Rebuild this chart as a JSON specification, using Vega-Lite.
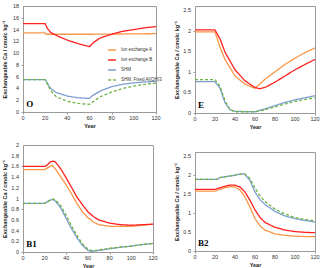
{
  "$schema": "https://vega.github.io/schema/vega-lite/v6.json",
  "padding": {"left": 2, "top": 3, "right": 4, "bottom": 2},
  "background": "white",
  "config": {
    "view": {"stroke": "#9a9a9a", "strokeWidth": 1},
    "axis": {"grid": false, "labels": false, "titleFontSize": 5.5, "titleFontWeight": "bold", "titleColor": "#222", "domainColor": "#9a9a9a", "tickColor": "#9a9a9a", "tickSize": 2, "titleFont": "Arial"},
    "axisX": {"titlePadding": 9},
    "axisY": {"titlePadding": 13},
    "legend": {"labelFontSize": 4.5, "labelFont": "Arial", "symbolType": "stroke", "symbolSize": 60, "rowPadding": 2, "labelColor": "#333"},
    "line": {"clip": true}
  },
  "datasets": {
    "d": [
      {"p":"O","s":"Ion exchange A","x":0,"y":13.45},{"p":"O","s":"Ion exchange A","x":20,"y":13.45},{"p":"O","s":"Ion exchange A","x":21,"y":13.2},{"p":"O","s":"Ion exchange A","x":60,"y":13.2},{"p":"O","s":"Ion exchange A","x":120,"y":13.3},
      {"p":"O","s":"Ion exchange B","x":0,"y":15.0},{"p":"O","s":"Ion exchange B","x":20,"y":15.0},{"p":"O","s":"Ion exchange B","x":22,"y":14.2},{"p":"O","s":"Ion exchange B","x":25,"y":13.5},{"p":"O","s":"Ion exchange B","x":30,"y":13.0},{"p":"O","s":"Ion exchange B","x":40,"y":12.2},{"p":"O","s":"Ion exchange B","x":50,"y":11.6},{"p":"O","s":"Ion exchange B","x":60,"y":11.1},{"p":"O","s":"Ion exchange B","x":62,"y":11.5},{"p":"O","s":"Ion exchange B","x":65,"y":12.0},{"p":"O","s":"Ion exchange B","x":70,"y":12.6},{"p":"O","s":"Ion exchange B","x":80,"y":13.2},{"p":"O","s":"Ion exchange B","x":90,"y":13.7},{"p":"O","s":"Ion exchange B","x":100,"y":14.0},{"p":"O","s":"Ion exchange B","x":110,"y":14.3},{"p":"O","s":"Ion exchange B","x":120,"y":14.5},
      {"p":"O","s":"SHM","x":0,"y":5.5},{"p":"O","s":"SHM","x":20,"y":5.5},{"p":"O","s":"SHM","x":25,"y":4.0},{"p":"O","s":"SHM","x":30,"y":3.3},{"p":"O","s":"SHM","x":40,"y":2.7},{"p":"O","s":"SHM","x":50,"y":2.4},{"p":"O","s":"SHM","x":60,"y":2.3},{"p":"O","s":"SHM","x":62,"y":2.7},{"p":"O","s":"SHM","x":70,"y":3.6},{"p":"O","s":"SHM","x":80,"y":4.3},{"p":"O","s":"SHM","x":90,"y":4.7},{"p":"O","s":"SHM","x":100,"y":4.95},{"p":"O","s":"SHM","x":110,"y":5.1},{"p":"O","s":"SHM","x":120,"y":5.2},
      {"p":"O","s":"SHM, Fixed Al(OH)3","x":0,"y":5.5},{"p":"O","s":"SHM, Fixed Al(OH)3","x":20,"y":5.5},{"p":"O","s":"SHM, Fixed Al(OH)3","x":25,"y":3.6},{"p":"O","s":"SHM, Fixed Al(OH)3","x":30,"y":2.6},{"p":"O","s":"SHM, Fixed Al(OH)3","x":40,"y":1.8},{"p":"O","s":"SHM, Fixed Al(OH)3","x":50,"y":1.45},{"p":"O","s":"SHM, Fixed Al(OH)3","x":60,"y":1.3},{"p":"O","s":"SHM, Fixed Al(OH)3","x":62,"y":1.6},{"p":"O","s":"SHM, Fixed Al(OH)3","x":70,"y":2.6},{"p":"O","s":"SHM, Fixed Al(OH)3","x":80,"y":3.4},{"p":"O","s":"SHM, Fixed Al(OH)3","x":90,"y":4.0},{"p":"O","s":"SHM, Fixed Al(OH)3","x":100,"y":4.4},{"p":"O","s":"SHM, Fixed Al(OH)3","x":110,"y":4.7},{"p":"O","s":"SHM, Fixed Al(OH)3","x":120,"y":4.9},

      {"p":"E","s":"Ion exchange A","x":0,"y":1.97},{"p":"E","s":"Ion exchange A","x":20,"y":1.97},{"p":"E","s":"Ion exchange A","x":25,"y":1.6},{"p":"E","s":"Ion exchange A","x":30,"y":1.3},{"p":"E","s":"Ion exchange A","x":40,"y":0.9},{"p":"E","s":"Ion exchange A","x":50,"y":0.7},{"p":"E","s":"Ion exchange A","x":60,"y":0.6},{"p":"E","s":"Ion exchange A","x":70,"y":0.82},{"p":"E","s":"Ion exchange A","x":80,"y":1.0},{"p":"E","s":"Ion exchange A","x":90,"y":1.18},{"p":"E","s":"Ion exchange A","x":100,"y":1.33},{"p":"E","s":"Ion exchange A","x":110,"y":1.47},{"p":"E","s":"Ion exchange A","x":120,"y":1.58},
      {"p":"E","s":"Ion exchange B","x":0,"y":2.02},{"p":"E","s":"Ion exchange B","x":20,"y":2.02},{"p":"E","s":"Ion exchange B","x":25,"y":1.8},{"p":"E","s":"Ion exchange B","x":30,"y":1.48},{"p":"E","s":"Ion exchange B","x":40,"y":1.05},{"p":"E","s":"Ion exchange B","x":50,"y":0.78},{"p":"E","s":"Ion exchange B","x":60,"y":0.62},{"p":"E","s":"Ion exchange B","x":65,"y":0.59},{"p":"E","s":"Ion exchange B","x":70,"y":0.62},{"p":"E","s":"Ion exchange B","x":80,"y":0.75},{"p":"E","s":"Ion exchange B","x":90,"y":0.9},{"p":"E","s":"Ion exchange B","x":100,"y":1.05},{"p":"E","s":"Ion exchange B","x":110,"y":1.18},{"p":"E","s":"Ion exchange B","x":120,"y":1.3},
      {"p":"E","s":"SHM","x":0,"y":0.76},{"p":"E","s":"SHM","x":20,"y":0.76},{"p":"E","s":"SHM","x":25,"y":0.6},{"p":"E","s":"SHM","x":30,"y":0.25},{"p":"E","s":"SHM","x":35,"y":0.08},{"p":"E","s":"SHM","x":40,"y":0.04},{"p":"E","s":"SHM","x":60,"y":0.03},{"p":"E","s":"SHM","x":70,"y":0.1},{"p":"E","s":"SHM","x":80,"y":0.18},{"p":"E","s":"SHM","x":90,"y":0.26},{"p":"E","s":"SHM","x":100,"y":0.32},{"p":"E","s":"SHM","x":110,"y":0.37},{"p":"E","s":"SHM","x":120,"y":0.42},
      {"p":"E","s":"SHM, Fixed Al(OH)3","x":0,"y":0.81},{"p":"E","s":"SHM, Fixed Al(OH)3","x":20,"y":0.81},{"p":"E","s":"SHM, Fixed Al(OH)3","x":25,"y":0.65},{"p":"E","s":"SHM, Fixed Al(OH)3","x":30,"y":0.3},{"p":"E","s":"SHM, Fixed Al(OH)3","x":35,"y":0.08},{"p":"E","s":"SHM, Fixed Al(OH)3","x":40,"y":0.03},{"p":"E","s":"SHM, Fixed Al(OH)3","x":60,"y":0.03},{"p":"E","s":"SHM, Fixed Al(OH)3","x":70,"y":0.08},{"p":"E","s":"SHM, Fixed Al(OH)3","x":80,"y":0.15},{"p":"E","s":"SHM, Fixed Al(OH)3","x":90,"y":0.22},{"p":"E","s":"SHM, Fixed Al(OH)3","x":100,"y":0.28},{"p":"E","s":"SHM, Fixed Al(OH)3","x":110,"y":0.33},{"p":"E","s":"SHM, Fixed Al(OH)3","x":120,"y":0.37},

      {"p":"B1","s":"Ion exchange A","x":0,"y":1.54},{"p":"B1","s":"Ion exchange A","x":20,"y":1.54},{"p":"B1","s":"Ion exchange A","x":25,"y":1.6},{"p":"B1","s":"Ion exchange A","x":27,"y":1.62},{"p":"B1","s":"Ion exchange A","x":30,"y":1.55},{"p":"B1","s":"Ion exchange A","x":35,"y":1.4},{"p":"B1","s":"Ion exchange A","x":40,"y":1.25},{"p":"B1","s":"Ion exchange A","x":45,"y":1.08},{"p":"B1","s":"Ion exchange A","x":50,"y":0.9},{"p":"B1","s":"Ion exchange A","x":55,"y":0.75},{"p":"B1","s":"Ion exchange A","x":60,"y":0.64},{"p":"B1","s":"Ion exchange A","x":65,"y":0.56},{"p":"B1","s":"Ion exchange A","x":70,"y":0.51},{"p":"B1","s":"Ion exchange A","x":80,"y":0.48},{"p":"B1","s":"Ion exchange A","x":90,"y":0.48},{"p":"B1","s":"Ion exchange A","x":100,"y":0.48},{"p":"B1","s":"Ion exchange A","x":110,"y":0.5},{"p":"B1","s":"Ion exchange A","x":120,"y":0.52},
      {"p":"B1","s":"Ion exchange B","x":0,"y":1.6},{"p":"B1","s":"Ion exchange B","x":20,"y":1.6},{"p":"B1","s":"Ion exchange B","x":22,"y":1.62},{"p":"B1","s":"Ion exchange B","x":25,"y":1.68},{"p":"B1","s":"Ion exchange B","x":28,"y":1.7},{"p":"B1","s":"Ion exchange B","x":30,"y":1.68},{"p":"B1","s":"Ion exchange B","x":35,"y":1.55},{"p":"B1","s":"Ion exchange B","x":40,"y":1.38},{"p":"B1","s":"Ion exchange B","x":45,"y":1.2},{"p":"B1","s":"Ion exchange B","x":50,"y":1.02},{"p":"B1","s":"Ion exchange B","x":55,"y":0.88},{"p":"B1","s":"Ion exchange B","x":60,"y":0.75},{"p":"B1","s":"Ion exchange B","x":65,"y":0.66},{"p":"B1","s":"Ion exchange B","x":70,"y":0.6},{"p":"B1","s":"Ion exchange B","x":80,"y":0.54},{"p":"B1","s":"Ion exchange B","x":90,"y":0.51},{"p":"B1","s":"Ion exchange B","x":100,"y":0.5},{"p":"B1","s":"Ion exchange B","x":110,"y":0.51},{"p":"B1","s":"Ion exchange B","x":120,"y":0.52},
      {"p":"B1","s":"SHM","x":0,"y":0.91},{"p":"B1","s":"SHM","x":20,"y":0.91},{"p":"B1","s":"SHM","x":25,"y":0.97},{"p":"B1","s":"SHM","x":28,"y":0.98},{"p":"B1","s":"SHM","x":30,"y":0.95},{"p":"B1","s":"SHM","x":35,"y":0.82},{"p":"B1","s":"SHM","x":40,"y":0.62},{"p":"B1","s":"SHM","x":45,"y":0.43},{"p":"B1","s":"SHM","x":50,"y":0.26},{"p":"B1","s":"SHM","x":55,"y":0.12},{"p":"B1","s":"SHM","x":60,"y":0.03},{"p":"B1","s":"SHM","x":63,"y":0.01},{"p":"B1","s":"SHM","x":70,"y":0.03},{"p":"B1","s":"SHM","x":80,"y":0.06},{"p":"B1","s":"SHM","x":90,"y":0.09},{"p":"B1","s":"SHM","x":100,"y":0.11},{"p":"B1","s":"SHM","x":110,"y":0.14},{"p":"B1","s":"SHM","x":120,"y":0.16},
      {"p":"B1","s":"SHM, Fixed Al(OH)3","x":0,"y":0.91},{"p":"B1","s":"SHM, Fixed Al(OH)3","x":20,"y":0.91},{"p":"B1","s":"SHM, Fixed Al(OH)3","x":25,"y":0.97},{"p":"B1","s":"SHM, Fixed Al(OH)3","x":28,"y":0.99},{"p":"B1","s":"SHM, Fixed Al(OH)3","x":30,"y":0.97},{"p":"B1","s":"SHM, Fixed Al(OH)3","x":35,"y":0.86},{"p":"B1","s":"SHM, Fixed Al(OH)3","x":40,"y":0.68},{"p":"B1","s":"SHM, Fixed Al(OH)3","x":45,"y":0.48},{"p":"B1","s":"SHM, Fixed Al(OH)3","x":50,"y":0.3},{"p":"B1","s":"SHM, Fixed Al(OH)3","x":55,"y":0.15},{"p":"B1","s":"SHM, Fixed Al(OH)3","x":60,"y":0.05},{"p":"B1","s":"SHM, Fixed Al(OH)3","x":65,"y":0.02},{"p":"B1","s":"SHM, Fixed Al(OH)3","x":70,"y":0.04},{"p":"B1","s":"SHM, Fixed Al(OH)3","x":80,"y":0.07},{"p":"B1","s":"SHM, Fixed Al(OH)3","x":90,"y":0.09},{"p":"B1","s":"SHM, Fixed Al(OH)3","x":100,"y":0.11},{"p":"B1","s":"SHM, Fixed Al(OH)3","x":110,"y":0.14},{"p":"B1","s":"SHM, Fixed Al(OH)3","x":120,"y":0.16},

      {"p":"B2","s":"Ion exchange A","x":0,"y":1.57},{"p":"B2","s":"Ion exchange A","x":20,"y":1.57},{"p":"B2","s":"Ion exchange A","x":25,"y":1.62},{"p":"B2","s":"Ion exchange A","x":30,"y":1.66},{"p":"B2","s":"Ion exchange A","x":35,"y":1.69},{"p":"B2","s":"Ion exchange A","x":40,"y":1.68},{"p":"B2","s":"Ion exchange A","x":45,"y":1.6},{"p":"B2","s":"Ion exchange A","x":50,"y":1.42},{"p":"B2","s":"Ion exchange A","x":55,"y":1.15},{"p":"B2","s":"Ion exchange A","x":60,"y":0.85},{"p":"B2","s":"Ion exchange A","x":65,"y":0.66},{"p":"B2","s":"Ion exchange A","x":70,"y":0.55},{"p":"B2","s":"Ion exchange A","x":80,"y":0.45},{"p":"B2","s":"Ion exchange A","x":90,"y":0.41},{"p":"B2","s":"Ion exchange A","x":100,"y":0.39},{"p":"B2","s":"Ion exchange A","x":110,"y":0.38},{"p":"B2","s":"Ion exchange A","x":120,"y":0.38},
      {"p":"B2","s":"Ion exchange B","x":0,"y":1.62},{"p":"B2","s":"Ion exchange B","x":20,"y":1.62},{"p":"B2","s":"Ion exchange B","x":25,"y":1.66},{"p":"B2","s":"Ion exchange B","x":30,"y":1.7},{"p":"B2","s":"Ion exchange B","x":35,"y":1.73},{"p":"B2","s":"Ion exchange B","x":40,"y":1.73},{"p":"B2","s":"Ion exchange B","x":45,"y":1.68},{"p":"B2","s":"Ion exchange B","x":50,"y":1.55},{"p":"B2","s":"Ion exchange B","x":55,"y":1.33},{"p":"B2","s":"Ion exchange B","x":60,"y":1.08},{"p":"B2","s":"Ion exchange B","x":65,"y":0.88},{"p":"B2","s":"Ion exchange B","x":70,"y":0.75},{"p":"B2","s":"Ion exchange B","x":80,"y":0.62},{"p":"B2","s":"Ion exchange B","x":90,"y":0.55},{"p":"B2","s":"Ion exchange B","x":100,"y":0.51},{"p":"B2","s":"Ion exchange B","x":110,"y":0.49},{"p":"B2","s":"Ion exchange B","x":120,"y":0.48},
      {"p":"B2","s":"SHM","x":0,"y":1.88},{"p":"B2","s":"SHM","x":22,"y":1.88},{"p":"B2","s":"SHM","x":25,"y":1.93},{"p":"B2","s":"SHM","x":30,"y":1.95},{"p":"B2","s":"SHM","x":40,"y":1.99},{"p":"B2","s":"SHM","x":45,"y":2.02},{"p":"B2","s":"SHM","x":48,"y":2.03},{"p":"B2","s":"SHM","x":50,"y":2.01},{"p":"B2","s":"SHM","x":55,"y":1.85},{"p":"B2","s":"SHM","x":60,"y":1.55},{"p":"B2","s":"SHM","x":65,"y":1.35},{"p":"B2","s":"SHM","x":70,"y":1.22},{"p":"B2","s":"SHM","x":80,"y":1.04},{"p":"B2","s":"SHM","x":90,"y":0.92},{"p":"B2","s":"SHM","x":100,"y":0.85},{"p":"B2","s":"SHM","x":110,"y":0.8},{"p":"B2","s":"SHM","x":120,"y":0.76},
      {"p":"B2","s":"SHM, Fixed Al(OH)3","x":0,"y":1.88},{"p":"B2","s":"SHM, Fixed Al(OH)3","x":22,"y":1.88},{"p":"B2","s":"SHM, Fixed Al(OH)3","x":25,"y":1.93},{"p":"B2","s":"SHM, Fixed Al(OH)3","x":30,"y":1.95},{"p":"B2","s":"SHM, Fixed Al(OH)3","x":40,"y":1.99},{"p":"B2","s":"SHM, Fixed Al(OH)3","x":45,"y":2.02},{"p":"B2","s":"SHM, Fixed Al(OH)3","x":48,"y":2.03},{"p":"B2","s":"SHM, Fixed Al(OH)3","x":50,"y":2.02},{"p":"B2","s":"SHM, Fixed Al(OH)3","x":55,"y":1.9},{"p":"B2","s":"SHM, Fixed Al(OH)3","x":60,"y":1.65},{"p":"B2","s":"SHM, Fixed Al(OH)3","x":65,"y":1.45},{"p":"B2","s":"SHM, Fixed Al(OH)3","x":70,"y":1.3},{"p":"B2","s":"SHM, Fixed Al(OH)3","x":80,"y":1.1},{"p":"B2","s":"SHM, Fixed Al(OH)3","x":90,"y":0.97},{"p":"B2","s":"SHM, Fixed Al(OH)3","x":100,"y":0.88},{"p":"B2","s":"SHM, Fixed Al(OH)3","x":110,"y":0.83},{"p":"B2","s":"SHM, Fixed Al(OH)3","x":120,"y":0.79}
    ],
    "labels": [
      {"p":"O","t":"O","x":3,"y":0.5},
      {"p":"E","t":"E","x":3,"y":0.07},
      {"p":"B1","t":"B1","x":3,"y":0.06},
      {"p":"B2","t":"B2","x":3,"y":0.08}
    ],
    "xt": [
      {"v":0,"t":"0"},{"v":20,"t":"20"},{"v":40,"t":"40"},{"v":60,"t":"60"},{"v":80,"t":"80"},{"v":100,"t":"100"},{"v":120,"t":"120"}
    ],
    "yt": [
      {"p":"O","v":0,"t":"0"},{"p":"O","v":2,"t":"2"},{"p":"O","v":4,"t":"4"},{"p":"O","v":6,"t":"6"},{"p":"O","v":8,"t":"8"},{"p":"O","v":10,"t":"10"},{"p":"O","v":12,"t":"12"},{"p":"O","v":14,"t":"14"},{"p":"O","v":16,"t":"16"},{"p":"O","v":18,"t":"18"},
      {"p":"E","v":0,"t":"0"},{"p":"E","v":0.5,"t":"0.5"},{"p":"E","v":1,"t":"1"},{"p":"E","v":1.5,"t":"1.5"},{"p":"E","v":2,"t":"2"},{"p":"E","v":2.5,"t":"2.5"},
      {"p":"B1","v":0,"t":"0"},{"p":"B1","v":0.2,"t":"0.2"},{"p":"B1","v":0.4,"t":"0.4"},{"p":"B1","v":0.6,"t":"0.6"},{"p":"B1","v":0.8,"t":"0.8"},{"p":"B1","v":1,"t":"1"},{"p":"B1","v":1.2,"t":"1.2"},{"p":"B1","v":1.4,"t":"1.4"},{"p":"B1","v":1.6,"t":"1.6"},{"p":"B1","v":1.8,"t":"1.8"},{"p":"B1","v":2,"t":"2"},
      {"p":"B2","v":0,"t":"0"},{"p":"B2","v":0.5,"t":"0.5"},{"p":"B2","v":1,"t":"1"},{"p":"B2","v":1.5,"t":"1.5"},{"p":"B2","v":2,"t":"2"},{"p":"B2","v":2.5,"t":"2.5"}
    ]
  },
  "hconcat": [
    {
      "vconcat": [
        {
          "width": 133, "height": 106,
          "layer": [
            {
              "data": {"name": "d"},
              "transform": [{"filter": "datum.p === 'O'"}],
              "mark": {"type": "line", "strokeWidth": 1.3},
              "encoding": {
                "x": {"field": "x", "type": "quantitative", "scale": {"domain": [0, 120]}, "axis": {"values": [0,20,40,60,80,100,120], "title": "Year"}},
                "y": {"field": "y", "type": "quantitative", "scale": {"domain": [0, 18]}, "axis": {"values": [0,2,4,6,8,10,12,14,16,18], "title": "Exchangeable Ca / cmolc kg⁻¹"}},
                "color": {"field": "s", "type": "nominal", "scale": {"domain": ["Ion exchange A","Ion exchange B","SHM","SHM, Fixed Al(OH)3"], "range": ["#F79646","#FF2020","#7F9FD3","#6DB344"]}, "legend": {"title": null, "orient": "none", "legendX": 84, "legendY": 39}},
                "strokeDash": {"field": "s", "type": "nominal", "scale": {"domain": ["Ion exchange A","Ion exchange B","SHM","SHM, Fixed Al(OH)3"], "range": [[1,0],[1,0],[1,0],[3,2]]}, "legend": {"title": null, "orient": "none", "legendX": 84, "legendY": 39}}
              }
            },
            {
              "data": {"name": "labels"},
              "transform": [{"filter": "datum.p === 'O'"}],
              "mark": {"type": "text", "font": "Liberation Serif", "fontWeight": "bold", "fontSize": 9, "align": "left", "baseline": "bottom"},
              "encoding": {"x": {"field": "x", "type": "quantitative"}, "y": {"field": "y", "type": "quantitative"}, "text": {"field": "t"}}
            },
            {
              "data": {"name": "xt"},
              "mark": {"type": "text", "font": "Arial", "fontSize": 5.5, "color": "#333", "baseline": "top", "dy": 4},
              "encoding": {"x": {"field": "v", "type": "quantitative"}, "y": {"datum": 0}, "text": {"field": "t"}}
            },
            {
              "data": {"name": "yt"},
              "transform": [{"filter": "datum.p === 'O'"}],
              "mark": {"type": "text", "font": "Arial", "fontSize": 5.5, "color": "#333", "align": "right", "baseline": "middle", "dx": -4},
              "encoding": {"x": {"datum": 0}, "y": {"field": "v", "type": "quantitative"}, "text": {"field": "t"}}
            }
          ]
        },
        {
          "width": 130, "height": 107,
          "layer": [
            {
              "data": {"name": "d"},
              "transform": [{"filter": "datum.p === 'B1'"}],
              "mark": {"type": "line", "strokeWidth": 1.3},
              "encoding": {
                "x": {"field": "x", "type": "quantitative", "scale": {"domain": [0, 120]}, "axis": {"values": [0,20,40,60,80,100,120], "title": "Year"}},
                "y": {"field": "y", "type": "quantitative", "scale": {"domain": [0, 2]}, "axis": {"values": [0,0.2,0.4,0.6,0.8,1,1.2,1.4,1.6,1.8,2], "title": "Exchangeable Ca / cmolc kg⁻¹"}},
                "color": {"field": "s", "type": "nominal", "scale": {"domain": ["Ion exchange A","Ion exchange B","SHM","SHM, Fixed Al(OH)3"], "range": ["#F79646","#FF2020","#7F9FD3","#6DB344"]}, "legend": null},
                "strokeDash": {"field": "s", "type": "nominal", "scale": {"domain": ["Ion exchange A","Ion exchange B","SHM","SHM, Fixed Al(OH)3"], "range": [[1,0],[1,0],[1,0],[3,2]]}, "legend": null}
              }
            },
            {
              "data": {"name": "labels"},
              "transform": [{"filter": "datum.p === 'B1'"}],
              "mark": {"type": "text", "font": "Liberation Serif", "fontWeight": "bold", "fontSize": 9, "align": "left", "baseline": "bottom"},
              "encoding": {"x": {"field": "x", "type": "quantitative"}, "y": {"field": "y", "type": "quantitative"}, "text": {"field": "t"}}
            },
            {
              "data": {"name": "xt"},
              "mark": {"type": "text", "font": "Arial", "fontSize": 5.5, "color": "#333", "baseline": "top", "dy": 4},
              "encoding": {"x": {"field": "v", "type": "quantitative"}, "y": {"datum": 0}, "text": {"field": "t"}}
            },
            {
              "data": {"name": "yt"},
              "transform": [{"filter": "datum.p === 'B1'"}],
              "mark": {"type": "text", "font": "Arial", "fontSize": 5.5, "color": "#333", "align": "right", "baseline": "middle", "dx": -4},
              "encoding": {"x": {"datum": 0}, "y": {"field": "v", "type": "quantitative"}, "text": {"field": "t"}}
            }
          ]
        }
      ],
      "spacing": 12
    },
    {
      "vconcat": [
        {
          "width": 120, "height": 107,
          "layer": [
            {
              "data": {"name": "d"},
              "transform": [{"filter": "datum.p === 'E'"}],
              "mark": {"type": "line", "strokeWidth": 1.3},
              "encoding": {
                "x": {"field": "x", "type": "quantitative", "scale": {"domain": [0, 120]}, "axis": {"values": [0,20,40,60,80,100,120], "title": "Year"}},
                "y": {"field": "y", "type": "quantitative", "scale": {"domain": [0, 2.5]}, "axis": {"values": [0,0.5,1,1.5,2,2.5], "title": "Exchangeable Ca / cmolc kg⁻¹"}},
                "color": {"field": "s", "type": "nominal", "scale": {"domain": ["Ion exchange A","Ion exchange B","SHM","SHM, Fixed Al(OH)3"], "range": ["#F79646","#FF2020","#7F9FD3","#6DB344"]}, "legend": null},
                "strokeDash": {"field": "s", "type": "nominal", "scale": {"domain": ["Ion exchange A","Ion exchange B","SHM","SHM, Fixed Al(OH)3"], "range": [[1,0],[1,0],[1,0],[3,2]]}, "legend": null}
              }
            },
            {
              "data": {"name": "labels"},
              "transform": [{"filter": "datum.p === 'E'"}],
              "mark": {"type": "text", "font": "Liberation Serif", "fontWeight": "bold", "fontSize": 9, "align": "left", "baseline": "bottom"},
              "encoding": {"x": {"field": "x", "type": "quantitative"}, "y": {"field": "y", "type": "quantitative"}, "text": {"field": "t"}}
            },
            {
              "data": {"name": "xt"},
              "mark": {"type": "text", "font": "Arial", "fontSize": 5.5, "color": "#333", "baseline": "top", "dy": 4},
              "encoding": {"x": {"field": "v", "type": "quantitative"}, "y": {"datum": 0}, "text": {"field": "t"}}
            },
            {
              "data": {"name": "yt"},
              "transform": [{"filter": "datum.p === 'E'"}],
              "mark": {"type": "text", "font": "Arial", "fontSize": 5.5, "color": "#333", "align": "right", "baseline": "middle", "dx": -4},
              "encoding": {"x": {"datum": 0}, "y": {"field": "v", "type": "quantitative"}, "text": {"field": "t"}}
            }
          ]
        },
        {
          "width": 120, "height": 99,
          "layer": [
            {
              "data": {"name": "d"},
              "transform": [{"filter": "datum.p === 'B2'"}],
              "mark": {"type": "line", "strokeWidth": 1.3},
              "encoding": {
                "x": {"field": "x", "type": "quantitative", "scale": {"domain": [0, 120]}, "axis": {"values": [0,20,40,60,80,100,120], "title": "Year"}},
                "y": {"field": "y", "type": "quantitative", "scale": {"domain": [0, 2.5]}, "axis": {"values": [0,0.5,1,1.5,2,2.5], "title": "Exchangeable Ca / cmolc kg⁻¹"}},
                "color": {"field": "s", "type": "nominal", "scale": {"domain": ["Ion exchange A","Ion exchange B","SHM","SHM, Fixed Al(OH)3"], "range": ["#F79646","#FF2020","#7F9FD3","#6DB344"]}, "legend": null},
                "strokeDash": {"field": "s", "type": "nominal", "scale": {"domain": ["Ion exchange A","Ion exchange B","SHM","SHM, Fixed Al(OH)3"], "range": [[1,0],[1,0],[1,0],[3,2]]}, "legend": null}
              }
            },
            {
              "data": {"name": "labels"},
              "transform": [{"filter": "datum.p === 'B2'"}],
              "mark": {"type": "text", "font": "Liberation Serif", "fontWeight": "bold", "fontSize": 9, "align": "left", "baseline": "bottom"},
              "encoding": {"x": {"field": "x", "type": "quantitative"}, "y": {"field": "y", "type": "quantitative"}, "text": {"field": "t"}}
            },
            {
              "data": {"name": "xt"},
              "mark": {"type": "text", "font": "Arial", "fontSize": 5.5, "color": "#333", "baseline": "top", "dy": 4},
              "encoding": {"x": {"field": "v", "type": "quantitative"}, "y": {"datum": 0}, "text": {"field": "t"}}
            },
            {
              "data": {"name": "yt"},
              "transform": [{"filter": "datum.p === 'B2'"}],
              "mark": {"type": "text", "font": "Arial", "fontSize": 5.5, "color": "#333", "align": "right", "baseline": "middle", "dx": -4},
              "encoding": {"x": {"datum": 0}, "y": {"field": "v", "type": "quantitative"}, "text": {"field": "t"}}
            }
          ]
        }
      ],
      "spacing": 20
    }
  ],
  "spacing": 11,
  "resolve": {"legend": {"color": "independent", "strokeDash": "independent"}}
}
